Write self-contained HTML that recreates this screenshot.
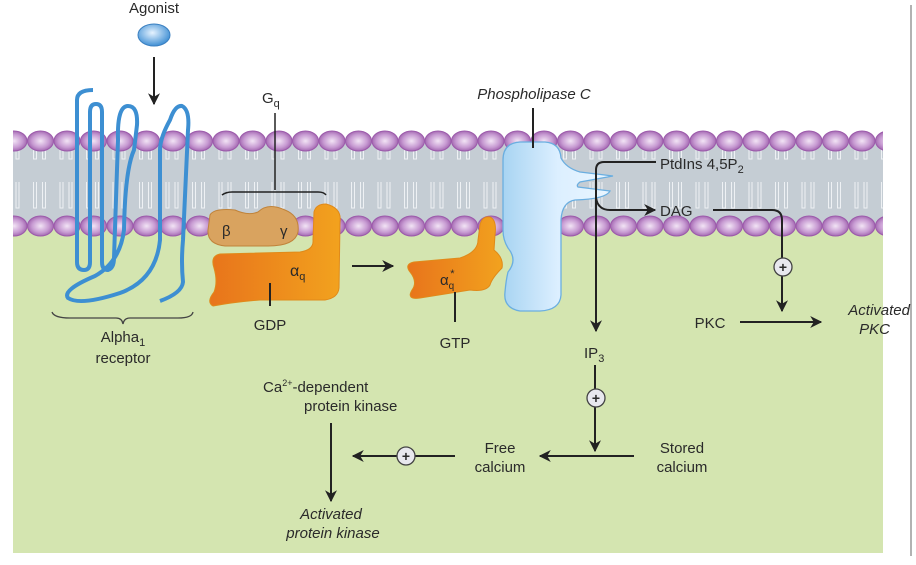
<!DOCTYPE html>
<html><head><meta charset="utf-8"><style>
html,body{margin:0;padding:0;background:#fff}
svg{display:block}
text{font-family:"Liberation Sans",sans-serif;fill:#2a2a2a}
</style></head><body>
<svg width="916" height="565" viewBox="0 0 916 565" xmlns="http://www.w3.org/2000/svg">
<defs>
<radialGradient id="head" cx="0.5" cy="0.5" r="0.55"><stop offset="0" stop-color="#f2e4f5"/><stop offset="0.6" stop-color="#c79ad2"/><stop offset="1" stop-color="#9a5ca8"/></radialGradient>
<radialGradient id="ag" cx="0.45" cy="0.4" r="0.6"><stop offset="0" stop-color="#e6f3ff"/><stop offset="1" stop-color="#3f8fd4"/></radialGradient>
<linearGradient id="or" x1="0" x2="1"><stop offset="0" stop-color="#e8741b"/><stop offset="1" stop-color="#f2a21e"/></linearGradient>
<linearGradient id="plc" x1="0" x2="1"><stop offset="0" stop-color="#a8d4f2"/><stop offset="0.5" stop-color="#dcefff"/><stop offset="1" stop-color="#eaf6ff"/></linearGradient>
<marker id="ah" viewBox="0 0 10 10" refX="9" refY="5" markerWidth="12" markerHeight="12" markerUnits="userSpaceOnUse" orient="auto"><path d="M0,0 L10,5 L0,10 L3,5 z" fill="#222"/></marker>
<pattern id="tails" x="0" y="0" width="26.5" height="85" patternUnits="userSpaceOnUse">
<g stroke="#eef1f4" stroke-width="1" fill="none">
<path d="M7,12 V38 H10 V12 M16,12 V38 H19 V12"/>
<path d="M7,48 V74 H10 V48 M16,48 V74 H19 V48"/>
</g></pattern>
</defs>
<rect x="13" y="141" width="870" height="85" fill="#c5cdd4"/>
<rect x="13" y="141" width="870" height="85" fill="url(#tails)"/>
<rect x="13" y="226" width="870" height="327" fill="#d4e5b0"/>
<g id="heads" stroke="#9c5aab" stroke-width="1">
</g>
<line x1="911" y1="5" x2="911" y2="556" stroke="#999" stroke-width="1.5"/>

<text x="154" y="13" font-size="15" text-anchor="middle">Agonist</text>
<ellipse cx="154" cy="35" rx="16" ry="11" fill="url(#ag)" stroke="#3a7fc0"/>
<line x1="154" y1="57" x2="154" y2="104" stroke="#222" stroke-width="2" marker-end="url(#ah)"/>

<path d="M93,90 Q77,90 77,100 L77,262 Q77,270 84,270 Q90,270 90,262 L90,112 Q90,104 96,104 Q102,104 102,112 L102,262 Q102,270 108,270 Q114,268 114,258 L118,140 Q117,106 128,106 Q138,106 137,125 L134,150 Q125,170 124,230 Q120,262 95,276 Q62,290 68,298 Q80,306 120,293 Q156,280 160,240 L160,150 Q160,138 170,120 Q175,105 182,106 Q190,110 188,130 L183,240 Q181,262 183,282 Q182,293 160,301" fill="none" stroke="#3d8fd2" stroke-width="4"/>
<path d="M52,312 Q54,318 70,318 L116,318 Q122,318 123,324 Q124,318 130,318 L178,318 Q192,318 193,312" fill="none" stroke="#444" stroke-width="1.3"/>
<text x="123" y="342" font-size="15" text-anchor="middle">Alpha<tspan font-size="11" dy="4">1</tspan></text>
<text x="123" y="363" font-size="15" text-anchor="middle">receptor</text>

<text x="262" y="103" font-size="15">G<tspan font-size="11" dy="4">q</tspan></text>
<line x1="275" y1="113" x2="275" y2="190" stroke="#222" stroke-width="1.5"/>
<path d="M222,195 Q226,192 232,192 L318,192 Q324,192 326,195" fill="none" stroke="#222" stroke-width="1.5"/>
<path d="M210,215 Q214,208 235,210 Q248,216 258,212 Q268,202 285,210 Q300,216 298,232 Q295,246 268,246 L225,246 Q207,244 208,230 Z" fill="#d9a35f" stroke="#c0833a"/>
<text x="222" y="236" font-size="15" font-family="Liberation Serif">β</text>
<text x="280" y="236" font-size="15" font-family="Liberation Serif">γ</text>
<path d="M314,212 Q316,204 326,204 Q342,208 340,222 L339,288 Q338,298 325,300 L260,300 Q235,302 213,306 Q206,302 214,292 Q218,282 214,268 Q210,256 220,254 L300,252 Q314,250 313,240 Z" fill="url(#or)" stroke="#e08a1a"/>
<text x="290" y="276" font-size="16" font-family="Liberation Serif" fill="#6b3a0a">α<tspan font-size="11" dy="4">q</tspan></text>
<line x1="270" y1="283" x2="270" y2="306" stroke="#222" stroke-width="2"/>
<text x="270" y="330" font-size="15" text-anchor="middle">GDP</text>
<line x1="352" y1="266" x2="393" y2="266" stroke="#222" stroke-width="2" marker-end="url(#ah)"/>

<path d="M480,225 Q482,216 490,217 Q497,220 495,235 L494,250 Q504,258 502,268 Q492,278 490,285 Q486,292 470,290 L420,298 Q406,300 412,290 Q418,282 410,272 Q404,264 414,262 L460,258 Q478,252 478,240 Z" fill="url(#or)" stroke="#e08a1a"/>
<text x="440" y="285" font-size="15" font-family="Liberation Serif" fill="#6b3a0a">α<tspan font-size="10" dy="4">q</tspan><tspan font-size="11" dy="-12" dx="-4">*</tspan></text>
<line x1="455" y1="292" x2="455" y2="322" stroke="#222" stroke-width="2"/>
<text x="455" y="348" font-size="15" text-anchor="middle">GTP</text>

<path d="M503,160 Q503,143 520,142 L545,142 Q560,143 561,158 Q566,168 580,172 L613,176 L580,182 Q576,185 578,187 L610,191 Q606,199 575,200 Q562,202 561,220 L561,295 Q560,310 540,311 L520,311 Q503,308 505,292 Q506,280 508,272 Q518,260 508,248 Q503,240 503,230 Z" fill="url(#plc)" stroke="#6aaee0" stroke-width="1.3"/>
<line x1="533" y1="108" x2="533" y2="148" stroke="#222" stroke-width="2"/>
<text x="534" y="99" font-size="15" font-style="italic" text-anchor="middle">Phospholipase C</text>

<text x="660" y="169" font-size="15">PtdIns 4,5P<tspan font-size="11" dy="4">2</tspan></text>
<path d="M656,162 L604,162 Q596,162 596,170 L596,331" fill="none" stroke="#222" stroke-width="2" marker-end="url(#ah)"/>
<path d="M596,198 Q598,210 610,210 L655,210" fill="none" stroke="#222" stroke-width="2" marker-end="url(#ah)"/>
<text x="660" y="216" font-size="15">DAG</text>
<path d="M713,210 L772,210 Q782,210 782,220 L782,311" fill="none" stroke="#222" stroke-width="2" marker-end="url(#ah)"/>
<circle cx="783" cy="267" r="9" fill="#e8e8ee" stroke="#444" stroke-width="1.3"/>
<text x="783" y="272" font-size="14" font-weight="bold" text-anchor="middle">+</text>
<text x="710" y="328" font-size="15" text-anchor="middle">PKC</text>
<line x1="740" y1="322" x2="821" y2="322" stroke="#222" stroke-width="2" marker-end="url(#ah)"/>
<text x="910" y="315" font-size="15" font-style="italic" text-anchor="end">Activated</text>
<text x="890" y="334" font-size="15" font-style="italic" text-anchor="end">PKC</text>

<text x="584" y="358" font-size="15">IP<tspan font-size="11" dy="4">3</tspan></text>
<line x1="595" y1="365" x2="595" y2="451" stroke="#222" stroke-width="2" marker-end="url(#ah)"/>
<circle cx="596" cy="398" r="9" fill="#e8e8ee" stroke="#444" stroke-width="1.3"/>
<text x="596" y="403" font-size="14" font-weight="bold" text-anchor="middle">+</text>
<text x="682" y="453" font-size="15" text-anchor="middle">Stored</text>
<text x="682" y="472" font-size="15" text-anchor="middle">calcium</text>
<line x1="634" y1="456" x2="540" y2="456" stroke="#222" stroke-width="2" marker-end="url(#ah)"/>
<text x="500" y="453" font-size="15" text-anchor="middle">Free</text>
<text x="500" y="472" font-size="15" text-anchor="middle">calcium</text>
<line x1="455" y1="456" x2="353" y2="456" stroke="#222" stroke-width="2" marker-end="url(#ah)"/>
<circle cx="406" cy="456" r="9" fill="#e8e8ee" stroke="#444" stroke-width="1.3"/>
<text x="406" y="461" font-size="14" font-weight="bold" text-anchor="middle">+</text>

<text x="263" y="392" font-size="15">Ca<tspan font-size="9" dy="-6">2+</tspan><tspan dy="6">-dependent</tspan></text>
<text x="304" y="411" font-size="15">protein kinase</text>
<line x1="331" y1="423" x2="331" y2="501" stroke="#222" stroke-width="2" marker-end="url(#ah)"/>
<text x="331" y="519" font-size="15" font-style="italic" text-anchor="middle">Activated</text>
<text x="333" y="538" font-size="15" font-style="italic" text-anchor="middle">protein kinase</text>
</svg>
<script>
(function(){var g=document.getElementById('heads');var ns='http://www.w3.org/2000/svg';
var ys=[141,226];for(var j=0;j<2;j++){for(var x=14;x<895;x+=26.5){var e=document.createElementNS(ns,'ellipse');e.setAttribute('cx',x);e.setAttribute('cy',ys[j]);e.setAttribute('rx',13);e.setAttribute('ry',10);e.setAttribute('fill','url(#head)');g.appendChild(e);}}
var c=document.createElementNS(ns,'clipPath');c.id='mc';var r=document.createElementNS(ns,'rect');r.setAttribute('x',13);r.setAttribute('y',0);r.setAttribute('width',870);r.setAttribute('height',565);c.appendChild(r);document.querySelector('defs').appendChild(c);g.setAttribute('clip-path','url(#mc)');})();
</script>
</body></html>
